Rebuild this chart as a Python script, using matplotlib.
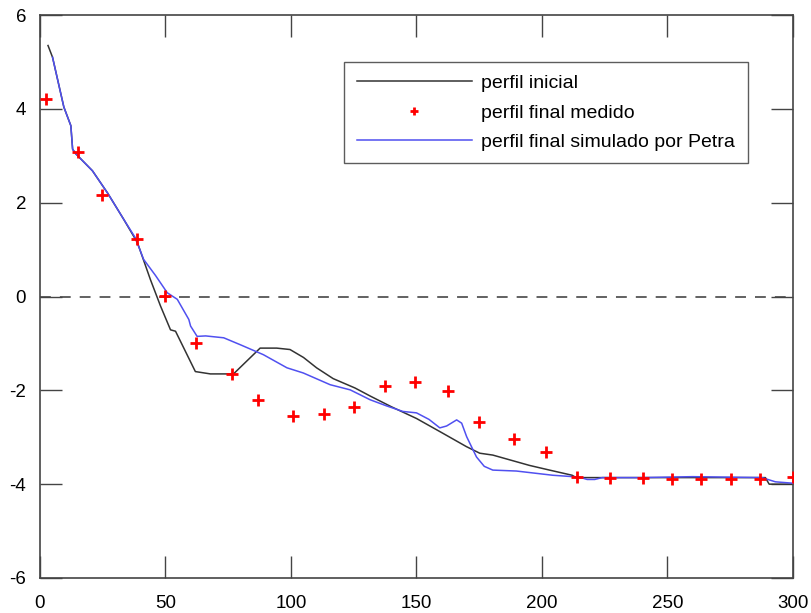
import numpy as np
import matplotlib as mpl
mpl.use("Agg")
from matplotlib import pyplot as plt

plt.rcParams["font.family"] = ["Liberation Sans", "DejaVu Sans"]
plt.rcParams["axes.unicode_minus"] = False

# - perfil inicial (black)
x_ini = [3.2, 5.0, 9.5, 12.3, 13.0, 14.3, 20.9, 27.0, 33.3, 38.8, 44.0, 48.0, 52.0,
         54.0, 61.9, 67.9, 77.1, 87.7, 94.3, 99.6, 105.0, 110.2, 116.8, 125.5,
         131.5, 140.0, 150.0, 160.0, 169.9, 175.2, 180.4, 195.0, 203.0, 212.0,
         213.6, 250.0, 289.0, 290.5, 300.0]
y_ini = [5.35, 5.1, 4.04, 3.64, 3.14, 3.04, 2.68, 2.2, 1.65, 1.15, 0.36, -0.2, -0.71,
         -0.74, -1.6, -1.65, -1.65, -1.1, -1.1, -1.13, -1.3, -1.52, -1.75, -1.95,
         -2.12, -2.35, -2.6, -2.9, -3.2, -3.34, -3.38, -3.6, -3.7, -3.81,
         -3.86, -3.86, -3.86, -4.0, -4.0]

# - perfil final medido (red +)
x_med = [2.4, 15.0, 24.9, 38.5, 49.8, 62.0, 76.5, 86.9, 100.8, 113.0, 125.3, 137.5,
         149.4, 162.4, 174.8, 188.7, 201.7, 214.0, 227.1, 240.4, 251.8, 263.5,
         275.2, 286.7, 300.0]
y_med = [4.2, 3.09, 2.17, 1.22, 0.02, -1.0, -1.65, -2.2, -2.54, -2.5, -2.36, -1.9,
         -1.83, -2.01, -2.68, -3.04, -3.32, -3.84, -3.86, -3.86, -3.9, -3.9,
         -3.88, -3.88, -3.84]

# - perfil final simulado por Petra (blue)
x_sim = [5.0, 9.5, 12.3, 13.0, 14.3, 20.9, 27.0, 33.3, 38.0, 41.3, 46.0, 50.7, 54.7,
         59.3, 60.0, 62.6, 66.0, 73.2, 79.9, 89.0, 98.4, 104.9, 115.6, 123.6,
         131.5, 138.0, 144.6, 150.0, 155.0, 159.3, 162.0, 166.0, 168.0, 170.0,
         173.9, 177.0, 180.4, 189.8, 204.3, 215.0, 218.0, 221.0, 224.0, 240.0,
         260.0, 287.6, 293.0, 300.0]
y_sim = [5.1, 4.04, 3.64, 3.14, 3.04, 2.68, 2.2, 1.65, 1.25, 0.79, 0.45, 0.08, -0.06,
         -0.49, -0.63, -0.85, -0.84, -0.88, -1.03, -1.24, -1.52, -1.63, -1.88, -1.99,
         -2.2, -2.33, -2.45, -2.48, -2.62, -2.8, -2.76, -2.63, -2.7, -2.99,
         -3.42, -3.62, -3.7, -3.72, -3.81, -3.85, -3.9, -3.9, -3.86, -3.86,
         -3.84, -3.86, -3.95, -3.98]

fig = plt.figure(figsize=(8.11, 6.13), dpi=100)
ax = fig.add_axes([0.0493, 0.0571, 0.9285, 0.9184])

ax.axhline(0, color="#555555", lw=1.3, ls=(0, (6, 5)), zorder=1)
ax.plot(x_ini, y_ini, color="#333333", lw=1.1, label="perfil inicial", zorder=2)
ax.plot(x_med, y_med, ls="none", marker="+", color="red", ms=9, mew=2,
        label="perfil final medido", zorder=4)
ax.plot(x_sim, y_sim, color="#5050f0", lw=1.1, label="perfil final simulado por Petra",
        zorder=3)

ax.set_xlim(0, 300)
ax.set_ylim(-6, 6)
ax.set_xticks(np.arange(0, 301, 50))
ax.set_yticks(np.arange(-6, 7, 2))
ax.tick_params(direction="in", length=16, width=1, top=True, right=True,
               labelsize=13.5, color="#444444")
ax.tick_params(axis="x", pad=12)
ax.tick_params(axis="y", pad=10)
for sp in ax.spines.values():
    sp.set_color("#444444")
    sp.set_linewidth(1.2)

leg = ax.legend(loc="upper left", bbox_to_anchor=(0.404, 0.9165), fontsize=14,
                frameon=True, fancybox=False, edgecolor="#333333",
                handlelength=5.9, handletextpad=0.5, borderpad=0.65, labelspacing=0.6,
                markerscale=0.7, borderaxespad=0)
leg.get_frame().set_linewidth(1.0)

plt.savefig("out.png", dpi=100)
plt.close()
